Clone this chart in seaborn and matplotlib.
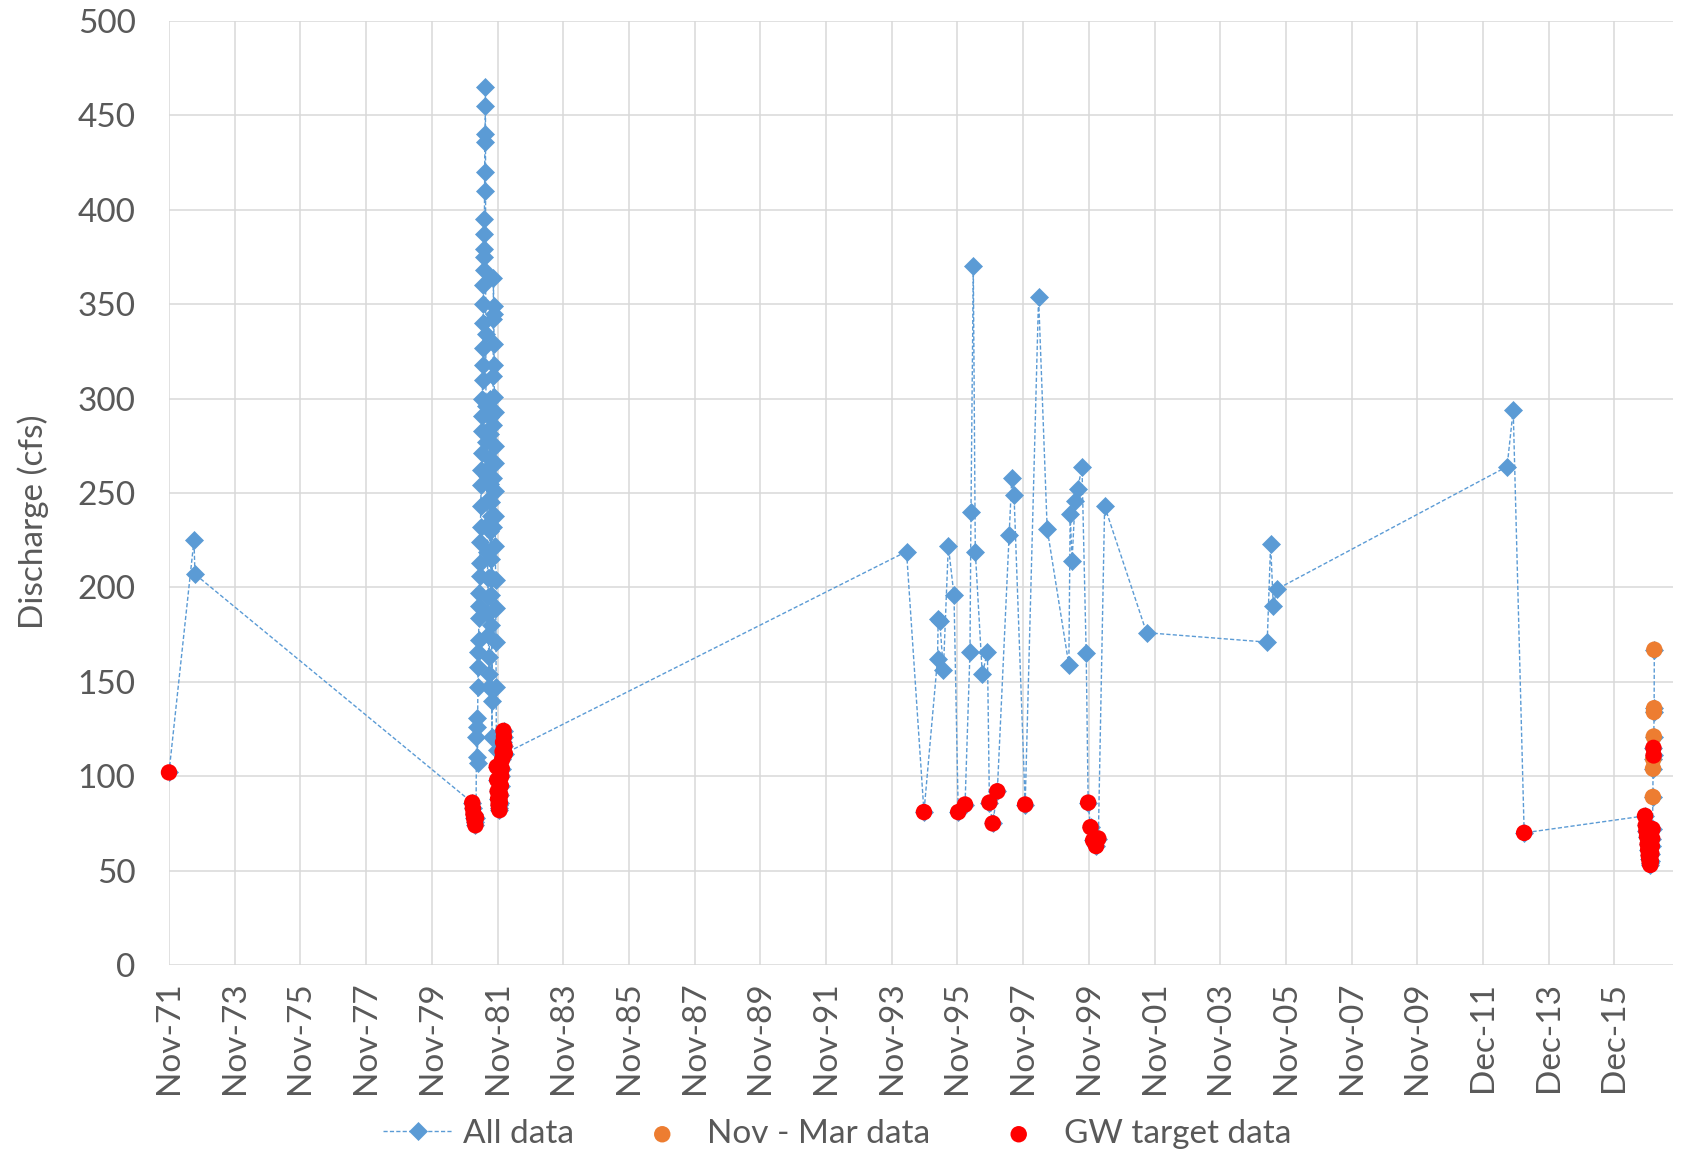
import pandas as pd
import seaborn as sns
import matplotlib
matplotlib.use("Agg")
import matplotlib.pyplot as plt
import matplotlib.dates as mdates

# Caudal medido (cfs) - tres series como no Excel original

# pontos só da série "All data" (losangos azuis)
blue_dates = [
    "1972-08-25", "1972-09-05",
    # coluna da esquerda, primavera/verão 1981
    "1981-04-03", "1981-04-06", "1981-04-09", "1981-04-12", "1981-04-15", "1981-04-18",
    "1981-04-21", "1981-04-24", "1981-04-27", "1981-04-30", "1981-05-03", "1981-05-06",
    "1981-05-09", "1981-05-12", "1981-05-15", "1981-05-18", "1981-05-21", "1981-05-24",
    "1981-05-27", "1981-05-30", "1981-06-02", "1981-06-05", "1981-06-08", "1981-06-10",
    "1981-06-12", "1981-06-14", "1981-06-16", "1981-06-18", "1981-06-20", "1981-06-22",
    "1981-06-24", "1981-06-26", "1981-06-28", "1981-06-30", "1981-07-02", "1981-07-04",
    "1981-07-06", "1981-07-08", "1981-07-10", "1981-07-12", "1981-07-15", "1981-07-18",
    "1981-07-21", "1981-07-24", "1981-07-27", "1981-07-30", "1981-08-02", "1981-08-05",
    "1981-08-08", "1981-08-11", "1981-08-14", "1981-08-17", "1981-08-20", "1981-08-23",
    # entre as colunas, fim do verão 1981
    "1981-08-26", "1981-08-28", "1981-08-30", "1981-09-01", "1981-09-03", "1981-09-05",
    "1981-09-07", "1981-09-09", "1981-09-11", "1981-09-13", "1981-09-15", "1981-09-17",
    # coluna da direita, outono 1981
    "1981-09-20", "1981-09-23", "1981-09-26", "1981-09-29", "1981-10-01", "1981-10-03",
    "1981-10-05", "1981-10-07", "1981-10-09", "1981-10-11", "1981-10-13", "1981-10-15",
    "1981-10-17", "1981-10-19", "1981-10-21", "1981-10-23", "1981-10-25", "1981-10-27",
    "1981-10-29", "1981-10-31", "1981-11-02", "1981-11-04", "1981-11-06", "1981-11-08",
    "1981-11-10", "1981-11-12",
    # anos 90
    "1994-05-10", "1995-04-20", "1995-04-27", "1995-05-15", "1995-06-24", "1995-08-18",
    "1995-10-20", "1996-04-15", "1996-04-26", "1996-05-22", "1996-06-13", "1996-08-30",
    "1996-10-26", "1997-06-25", "1997-07-24", "1997-08-18", "1998-05-18", "1998-08-22",
    "1999-04-20", "1999-05-05", "1999-05-26", "1999-06-28", "1999-07-27", "1999-09-13",
    "1999-10-30", "2000-05-22", "2001-09-01",
    "2005-05-05", "2005-06-12", "2005-07-12", "2005-08-18",
    "2012-08-25", "2012-11-01",
]
blue_q = [
    225, 207,
    121, 131, 126, 110, 107, 147, 158, 166, 172, 184, 190, 197,
    206, 213, 224, 232, 243, 254, 262, 271, 283, 291, 300, 318,
    310, 327, 340, 350, 360, 368, 375, 379, 387, 395, 410, 420,
    436, 440, 455, 465, 334, 296, 277, 259, 246, 233, 219, 205,
    195, 186, 175, 163, 154, 147,
    255, 300, 268, 290, 230, 281, 245, 215, 265, 180, 238, 196,
    140, 121, 205, 232, 258, 286, 312, 342, 364, 349, 345, 329,
    318, 301, 293, 275, 266, 251, 238, 222, 204, 189, 171, 147,
    121, 114,
    219, 162, 183, 182, 156, 222,
    196, 166, 240, 370, 219, 154,
    166, 228, 258, 249, 354, 231,
    159, 239, 214, 246, 252, 264,
    165, 243, 176,
    171, 223, 190, 199,
    264, 294,
]

# Nov - Mar (laranja)
novmar_dates = ["2017-02-02", "2017-02-04", "2017-02-06", "2017-02-12",
                "2017-02-14", "2017-02-16", "2017-02-18"]
novmar_q = [89, 104, 109, 121, 134, 136, 167]

# GW target (vermelho)
gw_dates = [
    "1971-11-21",
    "1981-02-15", "1981-02-22", "1981-03-01", "1981-03-08", "1981-03-15", "1981-03-22",
    "1981-03-29",
    "1981-11-15", "1981-11-20", "1981-11-25", "1981-11-30", "1981-12-05", "1981-12-10",
    "1981-12-15", "1981-12-20", "1981-12-25", "1981-12-30", "1982-01-04", "1982-01-09",
    "1982-01-14", "1982-01-19", "1982-01-24", "1982-01-29", "1982-02-03", "1982-02-08",
    "1982-02-12",
    "1994-11-20", "1995-12-06", "1996-02-20", "1996-11-17", "1996-12-24", "1997-02-13",
    "1997-12-20", "1999-11-21", "1999-12-17", "2000-01-15", "2000-02-17", "2000-03-13",
    "2013-03-03",
    "2016-11-07", "2016-11-15", "2016-11-22", "2016-11-29", "2016-12-06", "2016-12-12",
    "2016-12-18", "2016-12-24", "2016-12-30", "2017-01-05", "2017-01-11", "2017-01-16",
    "2017-01-21", "2017-01-25", "2017-01-29", "2017-02-08", "2017-02-10",
]
gw_q = [
    102,
    86, 83, 80, 78, 76, 74, 78,
    105, 98, 92, 88, 85, 83, 82, 86, 90, 95, 100, 104, 109, 113, 118, 124, 121, 116, 112,
    81, 81, 85, 86, 75, 92, 85, 86, 73, 66, 63, 67,
    70,
    79, 74, 71, 68, 64, 61, 58, 56, 54, 53, 55, 59, 63, 67, 72, 115, 111,
]

AZUL = "#5B9BD5"
LARANJA = "#ED7D31"
VERMELHO = "#FF0000"
CINZA = "#595959"

df_all = pd.concat([
    pd.DataFrame({"date": blue_dates, "q": blue_q}),
    pd.DataFrame({"date": novmar_dates, "q": novmar_q}),
    pd.DataFrame({"date": gw_dates, "q": gw_q}),
])
df_all["date"] = pd.to_datetime(df_all["date"])
df_all = df_all.sort_values("date").reset_index(drop=True)

df_nm = pd.DataFrame({"date": pd.to_datetime(novmar_dates), "q": novmar_q})
df_gw = pd.DataFrame({"date": pd.to_datetime(gw_dates), "q": gw_q})

sns.set_theme(style="whitegrid")
plt.rcParams["font.family"] = ["Lato", "DejaVu Sans"]

fig = plt.figure(figsize=(16.82, 11.55), dpi=100)
ax = fig.add_axes([169 / 1682, 1 - 965 / 1155, (1673 - 169) / 1682, (965 - 21) / 1155])

sns.lineplot(data=df_all, x="date", y="q", sort=False, estimator=None, ax=ax,
             color=AZUL, linewidth=1.0, linestyle=(0, (3, 1.6)),
             marker="D", markersize=9, markeredgecolor=AZUL, markeredgewidth=0.5,
             label="All data", zorder=2)
sns.scatterplot(data=df_nm, x="date", y="q", ax=ax, color=LARANJA, s=140,
                edgecolor="none", label="Nov - Mar data", zorder=3, clip_on=False)
sns.scatterplot(data=df_gw, x="date", y="q", ax=ax, color=VERMELHO, s=140,
                edgecolor="none", label="GW target data", zorder=4, clip_on=False)

# eixo de datas como no Excel (unidade de 731 dias)
inicio = pd.Timestamp("1971-11-21")
ticks = [inicio + pd.Timedelta(days=731 * k) for k in range(23)]
ax.set_xticks(ticks)
ax.xaxis.set_major_formatter(mdates.DateFormatter("%b-%y"))
ax.set_xlim(inicio, pd.Timestamp("2017-09-14"))
ax.set_ylim(0, 500)
ax.set_yticks(range(0, 501, 50))

ax.grid(True, color="#D9D9D9", linewidth=1.1)
for s in ax.spines.values():
    s.set_visible(False)
ax.tick_params(axis="both", length=0, labelsize=24, colors=CINZA)
ax.tick_params(axis="y", pad=24)
ax.tick_params(axis="x", pad=12, labelrotation=90)

ax.set_xlabel("")
ax.set_ylabel("Discharge (cfs)", fontsize=24, color=CINZA)
ax.yaxis.set_label_coords(-0.080, 0.47)

handles, labels = ax.get_legend_handles_labels()
ax.get_legend().remove()
fig.legend(handles, labels, loc="center", bbox_to_anchor=(837 / 1682, 1 - 1134 / 1155),
           ncol=3, frameon=False, fontsize=24, handlelength=2.1, handletextpad=0.3,
           columnspacing=1.6, labelcolor=CINZA)

plt.savefig("out.png", dpi=100)
